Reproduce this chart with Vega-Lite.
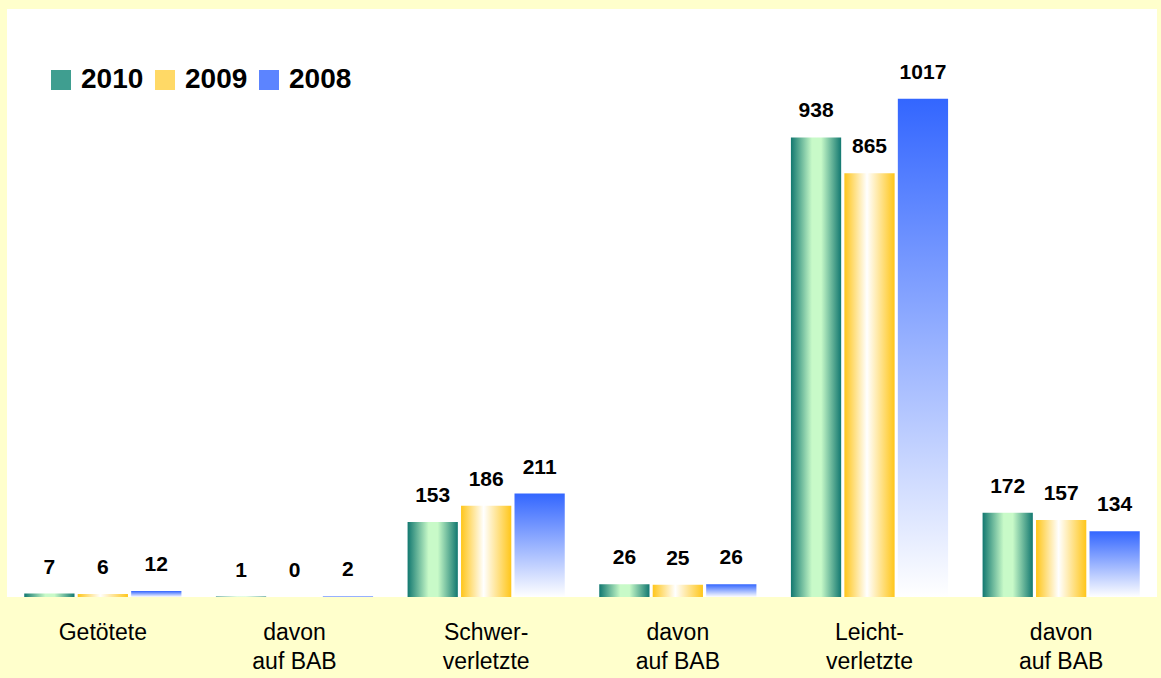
{
  "$schema": "https://vega.github.io/schema/vega-lite/v6.json",
  "width": 1150,
  "height": 588,
  "autosize": {"type": "none"},
  "padding": {"left": 7, "top": 9, "right": 4, "bottom": 81},
  "background": "#FFFFCC",
  "view": {"fill": "#FFFFFF", "stroke": null},
  "config": {"font": "Liberation Sans"},
  "data": {
    "values": [
      {"kat": "1|Getötete", "year": "2010", "value": 7},
      {"kat": "1|Getötete", "year": "2009", "value": 6},
      {"kat": "1|Getötete", "year": "2008", "value": 12},
      {"kat": "2|davon|auf BAB", "year": "2010", "value": 1},
      {"kat": "2|davon|auf BAB", "year": "2009", "value": 0},
      {"kat": "2|davon|auf BAB", "year": "2008", "value": 2},
      {"kat": "3|Schwer-|verletzte", "year": "2010", "value": 153},
      {"kat": "3|Schwer-|verletzte", "year": "2009", "value": 186},
      {"kat": "3|Schwer-|verletzte", "year": "2008", "value": 211},
      {"kat": "4|davon|auf BAB", "year": "2010", "value": 26},
      {"kat": "4|davon|auf BAB", "year": "2009", "value": 25},
      {"kat": "4|davon|auf BAB", "year": "2008", "value": 26},
      {"kat": "5|Leicht-|verletzte", "year": "2010", "value": 938},
      {"kat": "5|Leicht-|verletzte", "year": "2009", "value": 865},
      {"kat": "5|Leicht-|verletzte", "year": "2008", "value": 1017},
      {"kat": "6|davon|auf BAB", "year": "2010", "value": 172},
      {"kat": "6|davon|auf BAB", "year": "2009", "value": 157},
      {"kat": "6|davon|auf BAB", "year": "2008", "value": 134}
    ]
  },
  "encoding": {
    "x": {
      "field": "kat",
      "type": "nominal",
      "sort": null,
      "scale": {"paddingInner": 0.18, "paddingOuter": 0.09},
      "axis": {
        "title": null,
        "domain": false,
        "ticks": false,
        "labelAngle": 0,
        "labelExpr": "slice(split(datum.label, '|'), 1)",
        "labelFontSize": 23,
        "labelColor": "#000000",
        "labelLineHeight": 29,
        "labelPadding": 24,
        "labelBaseline": "top"
      }
    },
    "xOffset": {
      "field": "year",
      "type": "nominal",
      "sort": ["2010", "2009", "2008"],
      "scale": {"paddingInner": 0.06}
    },
    "y": {
      "field": "value",
      "type": "quantitative",
      "scale": {"domain": [0, 1200]},
      "axis": null
    }
  },
  "layer": [
    {
      "mark": {"type": "bar"},
      "encoding": {
        "color": {
          "condition": [
            {"test": "datum.year === '2010'", "value": {"gradient": "linear", "x1": 0, "y1": 0, "x2": 1, "y2": 0, "stops": [
                {"offset": 0, "color": "#127870"},
                {"offset": 0.42, "color": "#C8FAC8"},
                {"offset": 0.6, "color": "#C8FAC8"},
                {"offset": 1, "color": "#127870"}]}},
            {"test": "datum.year === '2009'", "value": {"gradient": "linear", "x1": 0, "y1": 0, "x2": 1, "y2": 0, "stops": [
                {"offset": 0, "color": "#FFC61A"},
                {"offset": 0.45, "color": "#FFFFFF"},
                {"offset": 1, "color": "#FFC61A"}]}},
            {"test": "datum.year === '2008'", "value": {"gradient": "linear", "x1": 0, "y1": 0, "x2": 0, "y2": 1, "stops": [
                {"offset": 0, "color": "#3366FF"},
                {"offset": 1, "color": "#FFFFFF"}]}}
          ],
          "field": "year",
          "type": "nominal",
          "sort": ["2010", "2009", "2008"],
          "scale": {
            "domain": ["2010", "2009", "2008"],
            "range": ["#3F9E90", "#FFD966", "#5C84FF"]
          },
          "legend": {
            "title": null,
            "orient": "none",
            "legendX": 40,
            "legendY": 57,
            "direction": "horizontal",
            "symbolType": "square",
            "symbolSize": 400,
            "symbolStrokeWidth": 0,
            "symbolOpacity": 1,
            "labelFontSize": 28,
            "labelFontWeight": "bold",
            "labelColor": "#000000",
            "labelOffset": 6,
            "columnPadding": 7
          }
        }
      }
    },
    {
      "mark": {"type": "text", "fontSize": 21, "fontWeight": "bold", "baseline": "bottom", "dy": -16, "color": "#000000"},
      "encoding": {
        "text": {"field": "value", "type": "quantitative"}
      }
    }
  ]
}
